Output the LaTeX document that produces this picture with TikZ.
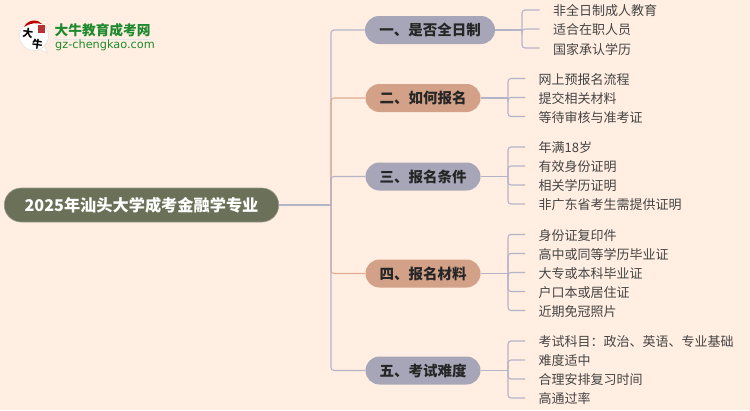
\documentclass[tikz,border=0pt]{standalone}
\usepackage{fontspec}
\setmainfont{Noto Sans CJK SC}
\newfontfamily\lat{DejaVu Sans}
\usetikzlibrary{shapes.misc}
\definecolor{bgc}{HTML}{FFEEE1}
\definecolor{rootc}{HTML}{6B7058}
\definecolor{bluec}{HTML}{A6A6B8}
\definecolor{orc}{HTML}{D2A187}
\definecolor{linec}{HTML}{B4B4C8}
\definecolor{orl}{HTML}{E0AD90}
\definecolor{txt}{HTML}{444444}
\definecolor{logog}{HTML}{1E8A2E}
\tikzset{x=1pt,y=-1pt,
 rootn/.style={rounded rectangle,fill=rootc,draw=rootc!70!white,line width=.6pt,minimum width=274.5pt,minimum height=34pt,inner sep=0pt,text=white,font=\fontsize{16.2}{16}\selectfont\bfseries},
 topicb/.style={rounded rectangle,fill=bluec,minimum width=115pt,minimum height=28pt,inner sep=0pt,text=black!85,font=\fontsize{14.5}{15}\selectfont\bfseries},
 topico/.style={topicb,fill=orc},
 leaf/.style={anchor=west,inner sep=0pt,text=txt,yshift=-1pt,font=\fontsize{13}{13}\selectfont},
 logochar/.style={inner sep=0pt,rotate=-8,font=\fontsize{10.5}{11}\selectfont\bfseries},
 br/.style={draw=linec,line width=1.1pt,rounded corners=3pt},
 bro/.style={draw=orl,line width=1.1pt,rounded corners=3pt},
}
\begin{document}
\begin{tikzpicture}
\useasboundingbox[fill=bgc] (0,0) rectangle (750,410);
% logo
\fill[white,draw=black!15,line width=.4pt] (38,49) -- (47.5,53) -- (44,45) -- cycle;
\path[fill=white,draw=black!15,line width=.4pt] (34,36) circle (14.5);
\fill[red!75!black] (24,27) .. controls (28,19) and (38,19) .. (42,24) .. controls (36,22.5) and (30,23) .. (24,27) -- cycle;
\fill[red!65!black,opacity=.8] (38,25) rectangle (45,33);
\node[logochar] (lg1) at (28,33) {大};
\node[logochar] (lg2) at (37.5,44) {牛};
\node[inner sep=0pt,anchor=west,text=logog,font=\fontsize{13.7}{14}\selectfont\bfseries] (lt) at (54.5,30) {大牛教育成考网};
\fill[black!10] (54.5,38.5) rectangle (150,40);
\node[inner sep=0pt,anchor=west,text=logog,font=\lat\fontsize{11.3}{11}\selectfont] (lu) at (55,45) {gz-chengkao.com};
% nodes
\node[rootn] (root) at (141.5,205) {2025年汕头大学成考金融学专业};
\node[topicb,minimum width=130pt] (t1) at (430,30) {一、是否全日制};
\node[topico] (t2) at (423,98) {二、如何报名};
\node[topicb] (t3) at (423,176.5) {三、报名条件};
\node[topico] (t4) at (423,273.5) {四、报名材料};
\node[topicb] (t5) at (423,370.5) {五、考试难度};
% leaves
\foreach \n/\yy/\s in {a1/10/非全日制成人教育,a2/29/适合在职人员,a3/48/国家承认学历}{
  \node[leaf] (\n) at (553,\yy) {\s};
  \coordinate (e\n) at (539.5,\yy);}
\foreach \n/\yy/\s in {b1/78.5/网上预报名流程,b2/97.5/提交相关材料,b3/116.5/等待审核与准考证,
  c1/147/年满18岁,c2/166/有效身份证明,c3/185/相关学历证明,c4/204/非广东省考生需提供证明,
  d1/234.5/身份证复印件,d2/253.5/高中或同等学历毕业证,d3/272.5/大专或本科毕业证,d4/291.5/户口本或居住证,d5/310.5/近期免冠照片,
  e1/341/考试科目：政治、英语、专业基础,e2/360/难度适中,e3/379/合理安排复习时间,e4/398/高通过率}{
  \node[leaf] (\n) at (538.5,\yy) {\s};
  \coordinate (e\n) at (525,\yy);}
% trunk
\coordinate (tk) at (331,205);
\draw[br] (root.east) -- (tk);
\draw[br] (t1.west) -| (tk);
\draw[bro] (t2.west) -| (tk);
\draw[br] (t3.west) -| (tk);
\draw[bro] (t4.west) -| (tk);
\draw[br] (t5.west) -| (tk);
% groups
\foreach \t/\xa/\ty/\lst in {
 t1/522/30/{a1,a2,a3},
 t2/508/98/{b1,b2,b3},
 t3/508/176.5/{c1,c2,c3,c4},
 t4/508/273.5/{d1,d2,d3,d4,d5},
 t5/508/370.5/{e1,e2,e3,e4}}{
  \coordinate (j\t) at (\xa,\ty);
  \draw[br] (\t.east) -- (j\t);
  \foreach \n in \lst { \draw[br] (j\t) |- (e\n); }
}
\end{tikzpicture}
\end{document}
